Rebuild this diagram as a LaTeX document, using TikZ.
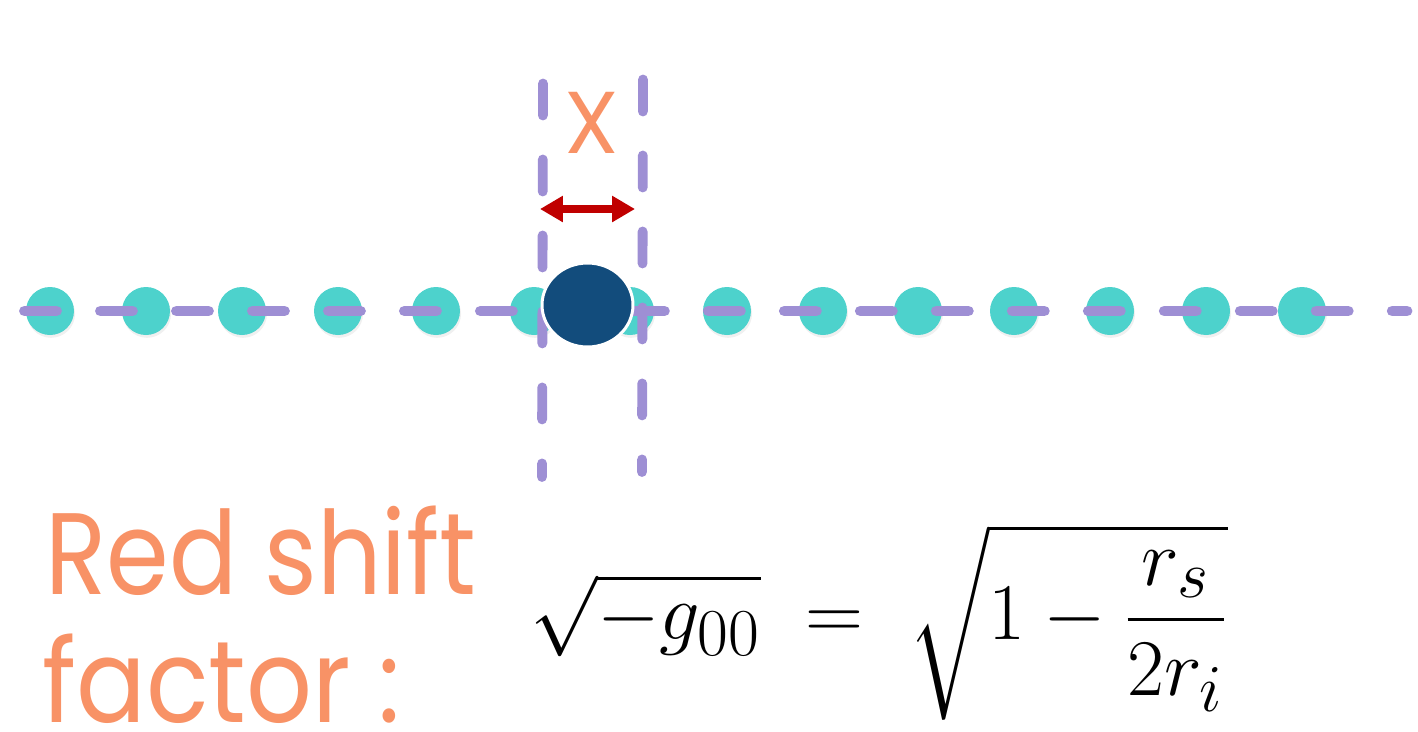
\documentclass[tikz,border=0pt]{standalone}
\usepackage{fontspec}
\usepackage{amsmath}
\setsansfont{Poppins}
\usetikzlibrary{arrows.meta, shadows, shapes.geometric}
\definecolor{colDot}   {RGB}{77,210,204}
\definecolor{colDash}  {RGB}{158,143,212}
\definecolor{colMass}  {RGB}{18,76,124}
\definecolor{colArrow} {RGB}{192,0,0}
\definecolor{colText}  {RGB}{248,146,102}
\tikzset{
  dot/.style    = {circle, fill=colDot, minimum size=9.6mm, inner sep=0pt,
                   drop shadow={opacity=0.12, shadow xshift=0.6pt, shadow yshift=-1.6pt}},
  mass/.style   = {ellipse, fill=colMass, draw=white, line width=1.7pt,
                   minimum width=18.2mm, minimum height=16.8mm, inner sep=0pt},
  dashline/.style = {colDash, line width=6.2pt, line cap=round,
                   dash pattern=on 6.4mm off 8.8mm},
  vline/.style  = {colDash, line width=5.6pt, line cap=round,
                   dash pattern=on 6.4mm off 8.8mm},
  darr/.style   = {{Triangle[length=4.6mm, width=5mm]}-{Triangle[length=4.6mm, width=5mm]},
                   colArrow, line width=4pt},
  label/.style  = {text=colText, font=\sffamily, inner sep=0pt},
  bigtext/.style= {label, anchor=base west, font=\sffamily\fontsize{66}{72}\selectfont},
}

\begin{document}
\begin{tikzpicture}[x=0.02cm, y=-0.02cm]
\useasboundingbox (0,0) rectangle (1418,731);

%% ── dots along the line ─────────────────────────────────────────────────────
\node[dot] (d1)  at (50,311)   {};
\node[dot] (d2)  at (146,311)  {};
\node[dot] (d3)  at (242,311)  {};
\node[dot] (d4)  at (338,311)  {};
\node[dot] (d5)  at (436,311)  {};
\node[dot] (d6)  at (534,311)  {};
\node[dot] (d7)  at (630,311)  {};
\node[dot] (d8)  at (727,311)  {};
\node[dot] (d9)  at (823,311)  {};
\node[dot] (d10) at (918,311)  {};
\node[dot] (d11) at (1014,311) {};
\node[dot] (d12) at (1110,311) {};
\node[dot] (d13) at (1206,311) {};
\node[dot] (d14) at (1302,311) {};

%% ── line ends ───────────────────────────────────────────────────────────────
\coordinate (hl)  at (24.5,311);
\coordinate (hr)  at (1407,311);
\coordinate (vlt) at (543,83.5);
\coordinate (vlb) at (542,477);
\coordinate (vrt) at (643,79.5);
\coordinate (vrb) at (642,472);

%% ── dashed lines ────────────────────────────────────────────────────────────
\draw[dashline] (hl) -- (hr);
\draw[vline] (vlt) -- (vlb);
\draw[vline] (vrt) -- (vrb);

%% ── central mass ────────────────────────────────────────────────────────────
\node[mass] (m) at (587.5,305) {};

%% ── width x ─────────────────────────────────────────────────────────────────
\coordinate (al) at (540,209);
\coordinate (ar) at (635,209);
\draw[darr] (al) -- (ar);
\node[label, font=\sffamily\fontsize{50}{54}\selectfont] (xlab) at (592,123) {X};

%% ── red shift text ──────────────────────────────────────────────────────────
\node[bigtext] (rs1) at (45,594) {\scalebox{0.87}[1]{Red shift}};
\node[bigtext] (rs2) at (42,722) {\scalebox{0.89}[1]{factor :}};

%% ── formula ─────────────────────────────────────────────────────────────────
\node[inner sep=0pt, anchor=west, font=\Huge] (eq) at (530,622)
  {\scalebox{1.84}{$\displaystyle \sqrt{-g_{00}} \;=\; \sqrt{1-\frac{r_s}{2r_i}}$}};

\end{tikzpicture}
\end{document}
